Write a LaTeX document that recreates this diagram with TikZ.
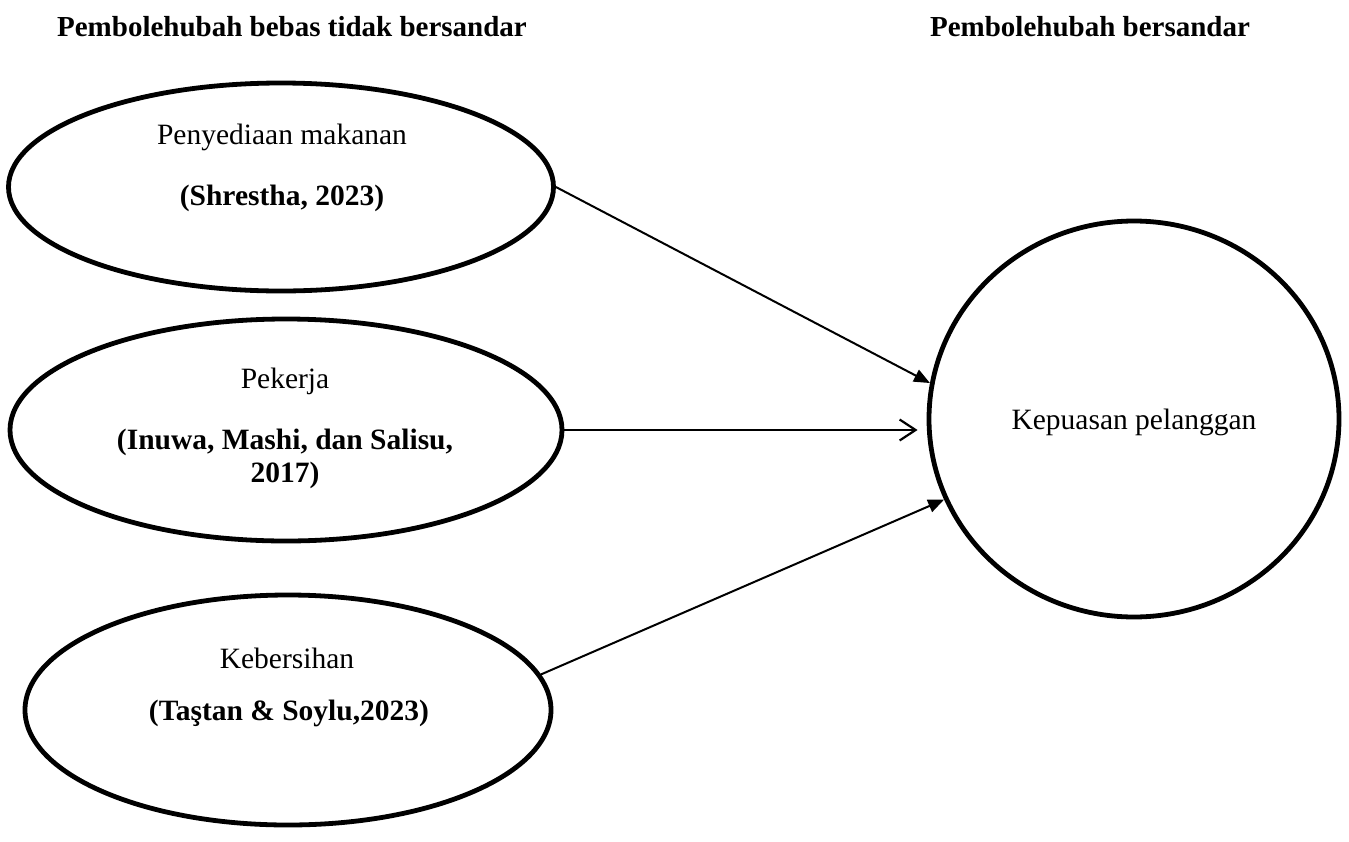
\documentclass[tikz,border=0pt]{standalone}
\usepackage{fontspec}
\setmainfont{Liberation Serif}
\usetikzlibrary{shapes.geometric,arrows.meta}
\begin{document}
\begin{tikzpicture}[x=1pt,y=-1pt,
  oval/.style={draw,ellipse,line width=4.8pt,inner sep=0pt},
  txt/.style={font=\fontsize{29.5}{33}\selectfont,inner sep=0pt,align=center},
  btxt/.style={font=\fontsize{29.5}{33}\selectfont\bfseries,inner sep=0pt,align=center},
  htxt/.style={font=\fontsize{29}{33}\selectfont\bfseries,inner sep=0pt},
  conn/.style={line width=2pt},
  fillhead/.style={-{Triangle[length=16pt,width=13pt]}},
  openhead/.style={-{Straight Barb[length=16pt,width=21pt,line width=2.2pt]}}
]
\useasboundingbox (0,0) rectangle (1349,841);
\node[htxt] (tl) at (292,27) {Pembolehubah bebas tidak bersandar};
\node[htxt] (tr) at (1090,27) {Pembolehubah bersandar};

\node[oval,minimum width=545pt,minimum height=208pt] (e1) at (281,187) {};
\node[txt] (e1a) at (282,137) {Penyediaan makanan};
\node[btxt] (e1b) at (282,198) {(Shrestha, 2023)};

\node[oval,minimum width=552pt,minimum height=222pt] (e2) at (286,430) {};
\node[txt] (e2a) at (285,381) {Pekerja};
\node[btxt] (e2b) at (285,459) {(Inuwa, Mashi, dan Salisu,\\2017)};

\node[oval,minimum width=526pt,minimum height=230pt] (e3) at (288,710) {};
\node[txt] (e3a) at (287,658) {Kebersihan};
\node[btxt] (e3b) at (289,713) {(Taştan \& Soylu,2023)};

\node[oval,minimum width=410pt,minimum height=396pt] (c) at (1134,419) {};
\node[txt] (ct) at (1134,422) {Kepuasan pelanggan};

\draw[conn,fillhead] (e1.east) -- (c.170);
\draw[conn,openhead,shorten >=9pt] (e2.east) -- (c.west |- e2.east);
\draw[conn,fillhead] (e3.8) -- (c.203);
\end{tikzpicture}
\end{document}
